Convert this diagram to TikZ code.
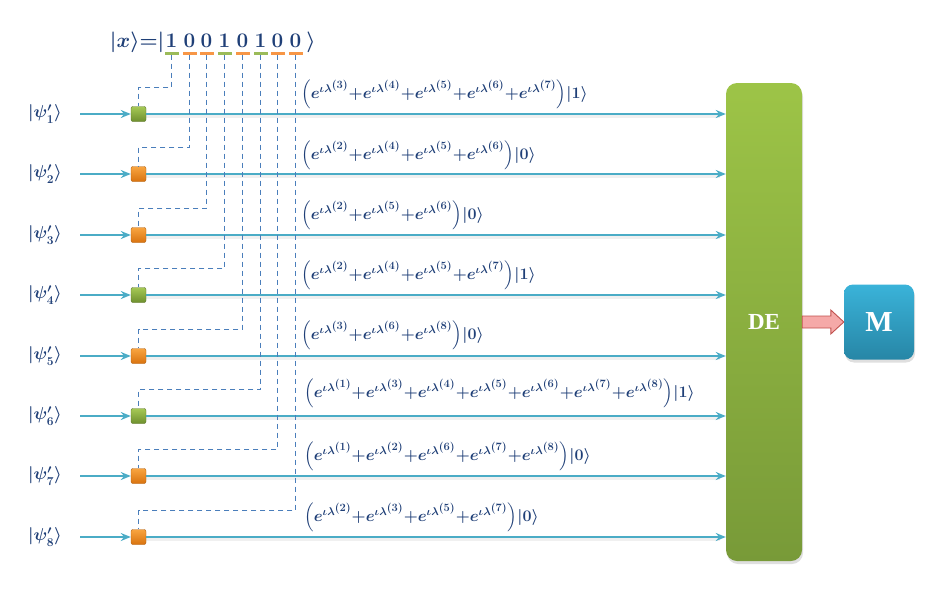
\documentclass[tikz,border=0pt]{standalone}
\usepackage{fontspec}
\usepackage{amsmath}
\usetikzlibrary{arrows.meta,calc,shadows}
\newfontfamily\boxfont{Liberation Serif}
\definecolor{wirec}{HTML}{4BACC6}
\definecolor{dashc}{HTML}{4A7EBB}
\definecolor{txt}{HTML}{1F3F77}
\definecolor{gtop}{HTML}{A6C955}
\definecolor{gbot}{HTML}{6E8F2E}
\definecolor{otop}{HTML}{F8A540}
\definecolor{obot}{HTML}{D9730F}
\definecolor{detop}{HTML}{9DC447}
\definecolor{debot}{HTML}{789A38}
\definecolor{mtop}{HTML}{3AB3D9}
\definecolor{mbot}{HTML}{2786A6}
\definecolor{barg}{HTML}{9BBB59}
\definecolor{baro}{HTML}{F79646}
\definecolor{rafill}{HTML}{F5A9A8}
\definecolor{radraw}{HTML}{C0504D}
\newcommand\myexp[1]{e^{\iota\lambda^{\scriptstyle(#1)}}}
\newcommand\pl{\mathord{+}}
\tikzset{
  wire/.style={draw=wirec, line width=1.7pt, -{Stealth[length=10pt,width=8pt]}},
  wshadow/.style={draw=black, opacity=0.06, line width=3pt},
  dline/.style={draw=dashc, line width=1.2pt, dash pattern=on 5.5pt off 3.5pt},
  qg/.style={minimum size=15pt, inner sep=0pt, rounded corners=2pt, top color=gtop, bottom color=gbot, draw=gbot!80!black, line width=0.4pt},
  qo/.style={minimum size=15pt, inner sep=0pt, rounded corners=2pt, top color=otop, bottom color=obot, draw=obot!80!black, line width=0.4pt},
  bitg/.style={fill=barg, minimum width=14pt, minimum height=3pt, inner sep=0pt},
  bito/.style={fill=baro, minimum width=14pt, minimum height=3pt, inner sep=0pt},
  bitt/.style={text=txt, font=\fontsize{20}{22}\selectfont\boldmath, inner sep=0pt},
  formula/.style={text=txt, font=\fontsize{17.28}{20}\selectfont\boldmath, anchor=west, inner sep=0pt, scale=0.93, transform shape},
  psil/.style={text=txt, font=\fontsize{18}{20}\selectfont\boldmath, inner sep=0pt},
}
\begin{document}
\begin{tikzpicture}[x=1pt,y=-1pt]
\useasboundingbox (0,0) rectangle (929,589);
% DE block
\node[minimum width=76pt, minimum height=478pt, rounded corners=11pt,
      top color=detop, bottom color=debot, drop shadow={opacity=0.25, shadow xshift=1pt, shadow yshift=-3pt},
      text=white, font=\boxfont\fontsize{23}{26}\selectfont\bfseries] (DE) at (764,322) {DE};
% M block
\node[minimum width=70pt, minimum height=75pt, rounded corners=9pt,
      top color=mtop, bottom color=mbot, drop shadow={opacity=0.25, shadow xshift=1pt, shadow yshift=-3pt},
      text=white, font=\boxfont\fontsize{29}{32}\selectfont\bfseries] (M) at (879,322) {M};
% red arrow DE -> M
\coordinate (ra) at (DE.east);
\coordinate (rb) at (M.west);
\filldraw[fill=rafill, draw=radraw, line width=0.9pt]
  ($(ra)+(0,-6)$) -- ($(rb)+(-13,-6)$) -- ($(rb)+(-13,-12)$) -- (rb) -- ($(rb)+(-13,12)$) -- ($(rb)+(-13,6)$) -- ($(ra)+(0,6)$) -- cycle;
% register label
\node[bitt, anchor=east] (xl) at (164.5,42) {$\lvert x\rangle{=}\vert$};
\node[bitt] (xr) at (311,42) {$\rangle$};
% bits
\foreach \i/\bx/\b/\st in {1/171.5/1/bitg, 2/189.5/0/bito, 3/206.5/0/bito, 4/224.5/1/bitg, 5/242.5/0/bito, 6/260.5/1/bitg, 7/277.5/0/bito, 8/295.5/0/bito}{
  \node[bitt] (b\i) at (\bx,41) {$\mathbf{\b}$};
  \node[\st] (u\i) at (\bx,53) {};
}
% wires
\foreach \k/\yy/\st in {1/114/qg,2/174/qo,3/235/qo,4/295/qg,5/356/qo,6/416/qg,7/476/qo,8/537/qo}{
  \coordinate (s\k) at (80,\yy);
  \node[\st] (q\k) at (138.5,\yy) {};
  \coordinate (t\k) at (138.5,\yy-26.5);
  \coordinate (e\k) at (720,\yy);
  \draw[wshadow] ($(q\k.east)+(0,2.5)$) -- ($(e\k)+(0,2.5)$);
  \draw[dline] (u\k.south) |- (t\k) -- (q\k.north);
  \draw[wire] (s\k) -- (q\k.west);
  \draw[wire] (q\k.east) -- (q\k.east -| DE.west);
  \node[psil] (p\k) at (45,\yy) {$\lvert\psi'_{\k}\rangle$};
}
% formulas
\node[formula] (f1) at (301,94) {$\Big(\myexp{3}\pl\myexp{4}\pl\myexp{5}\pl\myexp{6}\pl\myexp{7}\Big)\vert 1\rangle$};
\node[formula] (f2) at (301,155) {$\Big(\myexp{2}\pl\myexp{4}\pl\myexp{5}\pl\myexp{6}\Big)\vert 0\rangle$};
\node[formula] (f3) at (301,215) {$\Big(\myexp{2}\pl\myexp{5}\pl\myexp{6}\Big)\vert 0\rangle$};
\node[formula] (f4) at (301,275) {$\Big(\myexp{2}\pl\myexp{4}\pl\myexp{5}\pl\myexp{7}\Big)\vert 1\rangle$};
\node[formula] (f5) at (301,335) {$\Big(\myexp{3}\pl\myexp{6}\pl\myexp{8}\Big)\vert 0\rangle$};
\node[formula] (f6) at (304,393) {$\Big(\myexp{1}\pl\myexp{3}\pl\myexp{4}\pl\myexp{5}\pl\myexp{6}\pl\myexp{7}\pl\myexp{8}\Big)\vert 1\rangle$};
\node[formula] (f7) at (304,456) {$\Big(\myexp{1}\pl\myexp{2}\pl\myexp{6}\pl\myexp{7}\pl\myexp{8}\Big)\vert 0\rangle$};
\node[formula] (f8) at (304,517) {$\Big(\myexp{2}\pl\myexp{3}\pl\myexp{5}\pl\myexp{7}\Big)\vert 0\rangle$};
\end{tikzpicture}
\end{document}
